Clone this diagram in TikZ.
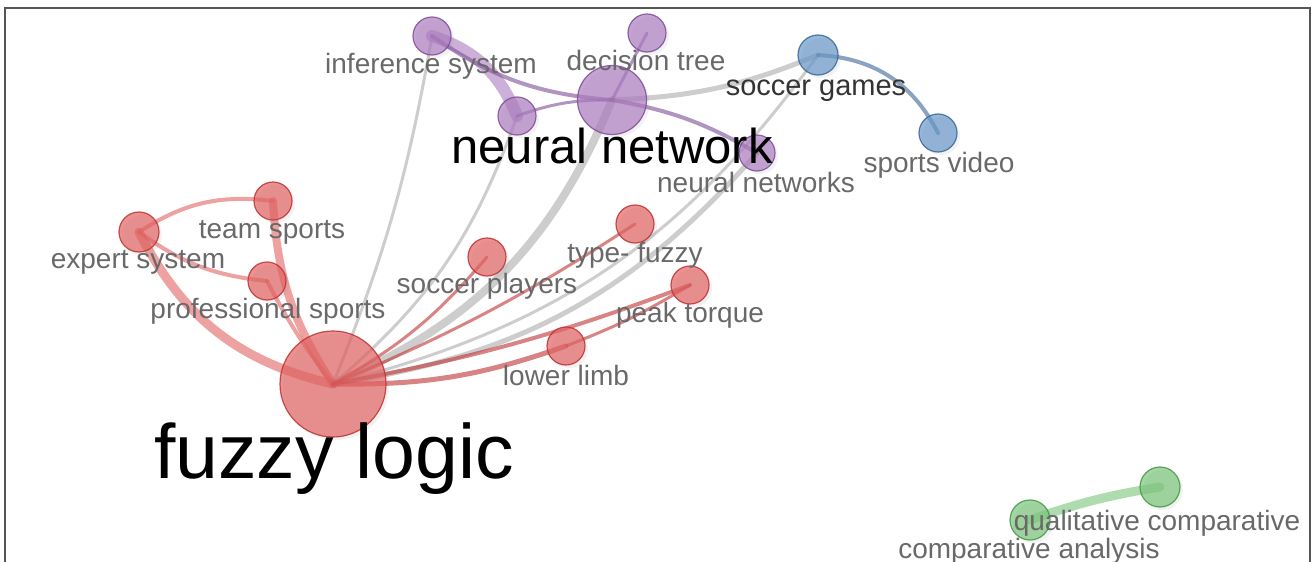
\documentclass[tikz,border=0pt]{standalone}
\usepackage{fontspec}
\setmainfont{Liberation Sans}
\usetikzlibrary{shadows,backgrounds}

\definecolor{clred}{RGB}{226,98,98}
\definecolor{clredline}{RGB}{192,50,50}
\definecolor{clpurple}{RGB}{172,124,192}
\definecolor{clpurpleline}{RGB}{125,78,150}
\definecolor{clblue}{RGB}{104,152,200}
\definecolor{clblueline}{RGB}{58,102,152}
\definecolor{clgreen}{RGB}{122,196,122}
\definecolor{clgreenline}{RGB}{70,150,70}
\definecolor{edgegray}{RGB}{172,172,172}
\definecolor{labelgray}{RGB}{105,105,105}
\definecolor{framegray}{RGB}{85,85,85}

\tikzset{
  kw/.style={circle, inner sep=0pt, minimum size=#1, fill opacity=0.7,
    draw opacity=0.85, line width=1.2pt,
    drop shadow={opacity=0.1, shadow xshift=3pt, shadow yshift=-3pt}},
  redkw/.style={kw=#1, fill=clred, draw=clredline},
  purplekw/.style={kw=#1, fill=clpurple, draw=clpurpleline},
  bluekw/.style={kw=#1, fill=clblue, draw=clblueline},
  greenkw/.style={kw=#1, fill=clgreen, draw=clgreenline},
  link/.style={line cap=round, draw opacity=0.6},
  lbl/.style={font=\fontsize{#1}{#1}\selectfont, text=labelgray, anchor=base, inner sep=0pt}
}

\begin{document}
\begin{tikzpicture}[x=1pt,y=-1pt]
            \useasboundingbox (0,0) rectangle (1315,562);

            % frame
            \draw[line width=1.5pt,framegray] (5,562) -- (5,8) -- (1310,8) -- (1310,562);

            % keywords
            \foreach \n/\x/\y/\s in {fuzzy/333/384/106,expert/139/232/40,team/273/201/38,
                prof/267/281/38,splayers/487/257/38,typefuzzy/635/224/38,peak/690/285/38,lower/566/346/38}
            \node[redkw=\s] (\n) at (\x,\y) {};
            \foreach \n/\x/\y/\s in {inference/432/36/38,nnsmall/517/116/38,nn/612/100/69,
                decision/647/33/38,nns/757/153/36}
            \node[purplekw=\s] (\n) at (\x,\y) {};
            \node[bluekw=40] (sgames) at (818,55) {};
            \node[bluekw=38] (svideo) at (938,133) {};
            \node[greenkw=40] (qca) at (1160,487) {};
            \node[greenkw=40] (canal) at (1030,520) {};

            % links, behind the keywords
            \begin{scope}[on background layer]
            \foreach \a/\b/\w/\bend/\c in {fuzzy/inference/3/-6/edgegray,fuzzy/nnsmall/3/-15/edgegray,
                fuzzy/nn/8/-22/edgegray,fuzzy/nns/5/-20/edgegray,fuzzy/sgames/3/-20/edgegray,
                nn/sgames/5/-10/edgegray,
                fuzzy/expert/9/25/clred,fuzzy/team/8/15/clred,fuzzy/prof/4/5/clred,
                expert/team/4/20/clred,expert/prof/4/-15/clred,fuzzy/splayers/3/-10/clredline,
                fuzzy/typefuzzy/3/-5/clredline,fuzzy/peak/4/-5/clredline,fuzzy/lower/5/-10/clredline,
                lower/peak/3/-5/clredline,
                inference/nnsmall/12/25/clpurple,inference/nn/4/-15/clpurpleline,
                nnsmall/nn/3/10/clpurpleline,nn/decision/3/0/clpurpleline,nn/nns/4/10/clpurpleline,
                sgames/svideo/4/30/clblueline,canal/qca/9/5/clgreen}
            \draw[link,\c,line width=\w pt] (\a.center) to[bend left=\bend] (\b.center);
            \end{scope}

            % labels
            \foreach \n/\x/\y/\t in {labinf/431/73/inference system,labdec/646/70/decision tree,
                labsv/939/172/sports video,labnns/756/192/neural networks,labteam/272/238/team sports,
                labexp/138/268/expert system,labprof/268/318/professional sports,
                labsp/487/293/soccer players,labtype/635/262/type- fuzzy,labpeak/690/322/peak torque,
                lablow/566/385/lower limb,labqca/1157/530/qualitative comparative,
                labca/1029/558/comparative analysis}
            \node[lbl=28] (\n) at (\x,\y) {\t};
            \node[lbl=29,text=black!80] (labsg) at (816,95) {soccer games};
            \node[lbl=49,text=black] (labnn) at (612,163) {neural network};
            \node[lbl=77,text=black] (labfuzzy) at (334,478) {fuzzy logic};
\end{tikzpicture}
\end{document}
